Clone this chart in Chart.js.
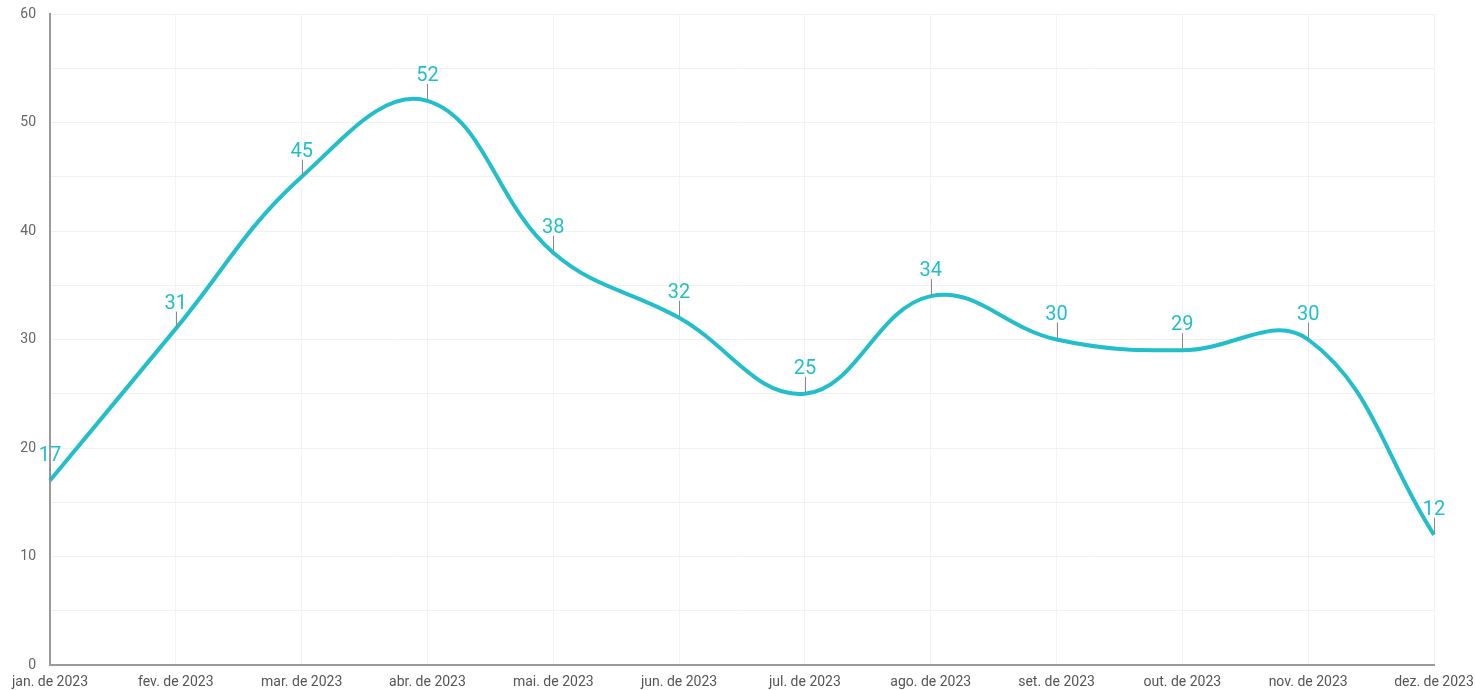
<!DOCTYPE html>
<html>
<head>
<meta charset="utf-8">
<script src="https://cdn.jsdelivr.net/npm/chart.js@4/dist/chart.umd.min.js"></script>
<style>
html,body{margin:0;padding:0;background:#fff;}
#wrap{width:1475px;height:690px;position:relative;}
</style>
</head>
<body>
<div id="wrap"><canvas id="c" width="1475" height="690"></canvas></div>
<script>
const categories = ["jan. de 2023","fev. de 2023","mar. de 2023","abr. de 2023","mai. de 2023","jun. de 2023","jul. de 2023","ago. de 2023","set. de 2023","out. de 2023","nov. de 2023","dez. de 2023"];
const values = [17, 31, 45, 52, 38, 32, 25, 34, 30, 29, 30, 12];
const yMin = 0;
const yMax = 60;
const yLabelStep = 10;
const yGridStep = 5;

const LINE = '#22bfca';

const valueLabels = {
  id: 'valueLabels',
  afterDatasetsDraw(chart) {
    const ctx = chart.ctx;
    const meta = chart.getDatasetMeta(0);
    ctx.save();
    meta.data.forEach((pt, i) => {
      const x = pt.x, y = pt.y;
      ctx.strokeStyle = '#8a8a8a';
      ctx.lineWidth = 1;
      ctx.beginPath();
      ctx.moveTo(Math.round(x) + 0.5, y - 1);
      ctx.lineTo(Math.round(x) + 0.5, y - 17);
      ctx.stroke();
      ctx.fillStyle = LINE;
      ctx.font = '20px Roboto';
      ctx.textAlign = 'center';
      ctx.textBaseline = 'alphabetic';
      ctx.fillText(String(values[i]), x, y - 20);
    });
    ctx.restore();
  }
};

new Chart(document.getElementById('c'), {
  type: 'line',
  data: {
    labels: categories,
    datasets: [{
      data: values,
      borderColor: LINE,
      borderWidth: 4,
      pointRadius: 0,
      tension: 0.4,
      fill: false
    }]
  },
  options: {
    responsive: false,
    animation: false,
    layout: { padding: { top: 14, right: 0, bottom: 0, left: 0 } },
    plugins: { legend: { display: false }, tooltip: { enabled: false } },
    scales: {
      x: {
        offset: false,
        afterFit(scale) { scale.height = 25; scale.paddingLeft = 0; scale.paddingRight = 41; },
        grid: { color: '#f3f3f3', lineWidth: 1, drawTicks: false },
        border: { color: '#9a9a9a', width: 2 },
        ticks: { color: '#555', font: { family: 'Roboto', size: 14 }, padding: 9, maxRotation: 0, autoSkip: false }
      },
      y: {
        min: yMin, max: yMax,
        afterFit(scale) { scale.width = 50; scale.paddingTop = 0; scale.paddingBottom = 0; },
        grid: { color: '#f1f1f1', lineWidth: 1, drawTicks: false },
        border: { color: '#9a9a9a', width: 2 },
        ticks: {
          stepSize: yGridStep,
          color: '#666', font: { family: 'Roboto', size: 14 }, padding: 14,
          callback: (v) => (v % yLabelStep === 0 ? String(v) : '')
        }
      }
    }
  },
  plugins: [valueLabels]
});
</script>
</body>
</html>
